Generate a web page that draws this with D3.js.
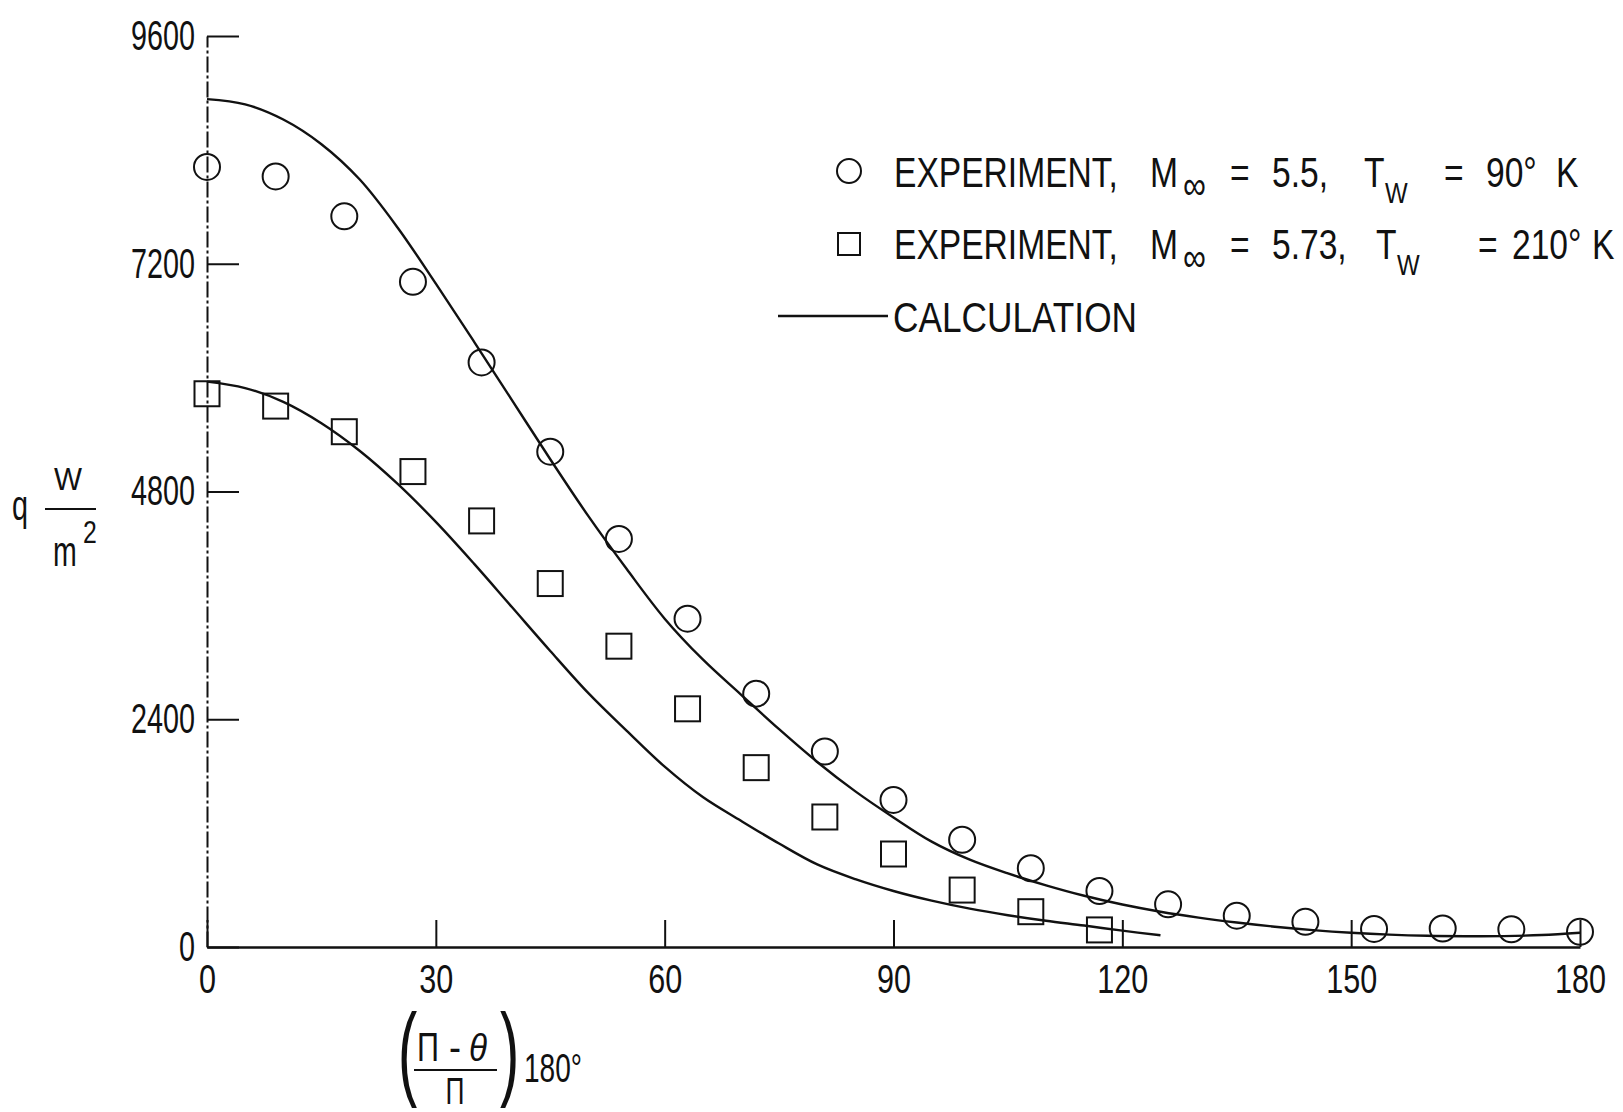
<!DOCTYPE html>
<html>
<head>
<meta charset="utf-8">
<script src="https://cdn.jsdelivr.net/npm/d3@7"></script>
<style>
    body { margin: 0; background: #fff; }
    svg text { font-family: "Liberation Sans", Arial, sans-serif; fill: #111; }
</style>
</head>
<body>
<div id="chart"></div>
<script>
// Axis ticks
const angleTicks = [0, 30, 60, 90, 120, 150, 180];
const heatTicks = [0, 2400, 4800, 7200, 9600];

// Experiment, M = 5.5, Tw = 90 K (circles)
const coldAngles = [0, 9, 18, 27, 36, 45, 54, 63, 72, 81, 90, 99, 108, 117, 126, 135, 144, 153, 162, 171, 180];
const coldHeat = [8220, 8120, 7700, 7010, 6160, 5220, 4300, 3460, 2670, 2060, 1550, 1130, 830, 590, 450, 330, 265, 190, 195, 186, 160];

// Experiment, M = 5.73, Tw = 210 K (squares)
const warmAngles = [0, 9, 18, 27, 36, 45, 54, 63, 72, 81, 90, 99, 108, 117];
const warmHeat = [5830, 5700, 5430, 5010, 4490, 3830, 3170, 2510, 1890, 1370, 980, 600, 372, 180];

// Calculation curves
const calcColdAngles = [0, 5, 10, 15, 20, 25, 30, 35, 40, 45, 50, 55, 60, 65, 70, 75, 80, 85, 90,
    95, 100, 105, 110, 115, 120, 125, 130, 135, 140, 145, 150, 155, 160, 165, 170, 175, 180];
const calcColdHeat = [8935, 8880, 8720, 8460, 8090, 7580, 6990, 6380, 5760, 5140, 4540, 3985, 3460, 3030, 2660, 2295, 1950, 1640, 1365,
    1110, 920, 775, 650, 540, 448, 372, 310, 258, 214, 178, 150, 130, 118, 114, 115, 126, 150];
const calcWarmAngles = [0, 5, 10, 15, 20, 25, 30, 35, 40, 45, 50, 55, 60, 65, 70, 75, 80, 85, 90,
    95, 100, 105, 110, 115, 120, 125];
const calcWarmHeat = [5958, 5890, 5745, 5520, 5230, 4880, 4480, 4040, 3580, 3120, 2675, 2280, 1900, 1580, 1330, 1090, 870, 715, 590,
    488, 404, 335, 276, 226, 172, 124];

const width = 1623;
const height = 1112;

const x = d3.scaleLinear().domain([0, 180]).range([207, 1580]);
const y = d3.scaleLinear().domain([0, 9600]).range([947, 36]);

const svg = d3.select("#chart").append("svg")
    .attr("width", width)
    .attr("height", height)
    .style("display", "block");

// axes, ticks pointing inward
const xAxis = svg.append("g")
    .attr("transform", `translate(0,${y(0)})`)
    .call(d3.axisBottom(x).tickValues(angleTicks).tickFormat(d3.format("d"))
        .tickSize(-27).tickSizeOuter(0).tickPadding(18));
xAxis.select(".domain").attr("stroke", "#111").attr("stroke-width", 2.5);
xAxis.selectAll(".tick line").attr("stroke", "#111").attr("stroke-width", 2);
xAxis.selectAll(".tick text")
    .style("font-size", "40px")
    .attr("textLength", d => String(d).length * 17)
    .attr("lengthAdjust", "spacingAndGlyphs");

const yAxis = svg.append("g")
    .attr("transform", `translate(${x(0)},0)`)
    .call(d3.axisLeft(y).tickValues(heatTicks).tickFormat(d3.format("d"))
        .tickSize(-32).tickSizeOuter(0).tickPadding(12));
yAxis.select(".domain").attr("stroke", "#111").attr("stroke-width", 2)
    .attr("stroke-dasharray", "16,3,3,3");
yAxis.selectAll(".tick line").attr("stroke", "#111").attr("stroke-width", 2);
yAxis.selectAll(".tick text")
    .style("font-size", "42px")
    .attr("textLength", d => String(d).length * 16)
    .attr("lengthAdjust", "spacingAndGlyphs");

// calculation curves
const line = d3.line()
    .x(d => x(d[0]))
    .y(d => y(d[1]))
    .curve(d3.curveCatmullRom.alpha(0.5));

[[calcColdAngles, calcColdHeat], [calcWarmAngles, calcWarmHeat]].forEach(([a, h]) => {
    svg.append("path")
        .datum(a.map((v, i) => [v, h[i]]))
        .attr("d", line)
        .attr("fill", "none")
        .attr("stroke", "#111")
        .attr("stroke-width", 2.4);
});

// experiment markers
svg.append("g").selectAll("circle")
    .data(coldAngles.map((v, i) => [v, coldHeat[i]]))
    .join("circle")
    .attr("cx", d => x(d[0]))
    .attr("cy", d => y(d[1]))
    .attr("r", 13)
    .attr("fill", "none")
    .attr("stroke", "#111")
    .attr("stroke-width", 2);

const sq = 25;
svg.append("g").selectAll("rect")
    .data(warmAngles.map((v, i) => [v, warmHeat[i]]))
    .join("rect")
    .attr("x", d => x(d[0]) - sq / 2)
    .attr("y", d => y(d[1]) - sq / 2)
    .attr("width", sq)
    .attr("height", sq)
    .attr("fill", "none")
    .attr("stroke", "#111")
    .attr("stroke-width", 2);

// helper for condensed lettering
function label(tx, ty, str, size, len, anchor) {
    const t = svg.append("text")
        .attr("x", tx)
        .attr("y", ty)
        .style("font-size", size + "px")
        .attr("text-anchor", anchor || "start")
        .text(str);
    if (len) t.attr("textLength", len).attr("lengthAdjust", "spacingAndGlyphs");
    return t;
}

// legend row: one text, condensed, pieces placed at page x
function legendRow(ty, pieces) {
    const x0 = 894, sx = 0.8;
    const t = svg.append("text")
        .attr("transform", `translate(${x0},${ty}) scale(${sx},1)`)
        .style("font-size", "42px");
    pieces.forEach(p => {
        t.append("tspan")
            .attr("x", (p[0] - x0) / sx)
            .attr("y", p[2] || 0)
            .style("font-size", p[3] ? p[3] + "px" : null)
            .text(p[1]);
    });
}

svg.append("circle")
    .attr("cx", 849).attr("cy", 171).attr("r", 12)
    .attr("fill", "none").attr("stroke", "#111").attr("stroke-width", 2);
svg.append("rect")
    .attr("x", 838).attr("y", 233).attr("width", 22).attr("height", 22)
    .attr("fill", "none").attr("stroke", "#111").attr("stroke-width", 2);
svg.append("line")
    .attr("x1", 778).attr("x2", 888).attr("y1", 316).attr("y2", 316)
    .attr("stroke", "#111").attr("stroke-width", 2.4);

legendRow(187, [[894, "EXPERIMENT,"], [1150, "M"], [1183, "\u221E", 12, 40], [1230, "="], [1272, "5.5,"],
    [1364, "T"], [1385, "W", 16, 30], [1444, "="], [1486, "90\u00B0"], [1556, "K"]]);
legendRow(259, [[894, "EXPERIMENT,"], [1150, "M"], [1183, "\u221E", 12, 40], [1230, "="], [1272, "5.73,"],
    [1376, "T"], [1397, "W", 16, 30], [1478, "="], [1512, "210\u00B0"], [1592, "K"]]);

label(893, 332, "CALCULATION", 42, 244);

// y axis title: q W/m^2
label(12, 520, "q", 42, 16);
label(68, 490, "W", 32, 28, "middle");
svg.append("line").attr("x1", 45).attr("x2", 96).attr("y1", 509).attr("y2", 509)
    .attr("stroke", "#111").attr("stroke-width", 2);
svg.append("text")
    .attr("transform", "translate(53,566) scale(0.68,1)")
    .style("font-size", "42px")
    .text("m");
svg.append("text")
    .attr("transform", "translate(83,543) scale(0.8,1)")
    .style("font-size", "31px")
    .text("2");

// x axis title: ((PI - theta)/PI) 180 deg
svg.append("text")
    .attr("transform", "translate(398,1086) scale(0.8,1.45)")
    .style("font-size", "72px")
    .text("(");
svg.append("text")
    .attr("transform", "translate(500,1086) scale(0.8,1.45)")
    .style("font-size", "72px")
    .text(")");
label(428, 1061, "\u03A0", 40, 22, "middle");
label(455, 1061, "-", 40, 12, "middle");
label(478, 1061, "\u03B8", 38, 18, "middle").style("font-style", "italic");
svg.append("line").attr("x1", 414).attr("x2", 497).attr("y1", 1070).attr("y2", 1070)
    .attr("stroke", "#111").attr("stroke-width", 2);
label(455, 1104, "\u03A0", 36, 19, "middle");
label(524, 1082, "180\u00B0", 40, 58);
</script>
</body>
</html>
